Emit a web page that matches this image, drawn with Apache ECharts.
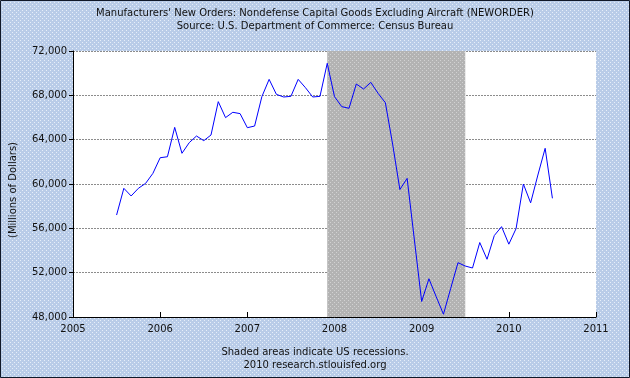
<!DOCTYPE html>
<html>
<head>
<meta charset="utf-8">
<script src="https://cdn.jsdelivr.net/npm/echarts@6/dist/echarts.min.js"></script>
<style>html,body{margin:0;padding:0;background:#fff}#c{width:630px;height:378px}</style>
</head>
<body>
<div id="c"></div>
<script>
// ---- data (monthly, millions of dollars) ----
var months = [
 '2005-07','2005-08','2005-09','2005-10','2005-11','2005-12',
 '2006-01','2006-02','2006-03','2006-04','2006-05','2006-06','2006-07','2006-08','2006-09','2006-10','2006-11','2006-12',
 '2007-01','2007-02','2007-03','2007-04','2007-05','2007-06','2007-07','2007-08','2007-09','2007-10','2007-11','2007-12',
 '2008-01','2008-02','2008-03','2008-04','2008-05','2008-06','2008-07','2008-08','2008-09','2008-10','2008-11','2008-12',
 '2009-01','2009-02','2009-03','2009-04','2009-05','2009-06','2009-07','2009-08','2009-09','2009-10','2009-11','2009-12',
 '2010-01','2010-02','2010-03','2010-04','2010-05','2010-06','2010-07'
];
var newOrders = [
 57200,59610,58920,59610,60060,60960,
 62370,62460,65110,62770,63730,64330,63910,64420,67430,65990,66470,66350,
 65080,65230,67880,69440,68090,67850,67910,69440,68690,67850,67910,70890,
 67880,66980,66830,69020,68570,69170,68180,67340,63600,59500,60510,54950,
 49400,51450,49830,48250,50590,52900,52600,52420,54720,53210,55350,56150,
 54570,55980,60000,58300,60810,63220,58710
];
var recession = ['2007-12','2009-07'];
var yearTicks = [2005,2006,2007,2008,2009,2010,2011];
var titleLines = ["Manufacturers' New Orders: Nondefense Capital Goods Excluding Aircraft (NEWORDER)",
                  "Source: U.S. Department of Commerce: Census Bureau"];
var footLines = ["Shaded areas indicate US recessions.", "2010 research.stlouisfed.org"];
var yName = "(Millions of Dollars)";

function toYear(s){ var p = s.split('-'); return (+p[0]) + (+p[1]-1)/12; }

function makeTile(base, dot, size){
  var c = document.createElement('canvas'); c.width = size; c.height = size;
  var g = c.getContext('2d'); g.fillStyle = base; g.fillRect(0,0,size,size);
  g.fillStyle = dot; g.fillRect(0,0,1,1); g.fillRect(size/2,size/2,1,1);
  return c;
}
var bgTile = makeTile('#b9cce8','#e6eef9',4);
var grayTile = makeTile('#b3b3b3','#d2d2d2',4);

var FONT = 'DejaVu Sans';
var chart = echarts.init(document.getElementById('c'), null, {renderer:'canvas'});
chart.setOption({
  animation: false,
  backgroundColor: {image: bgTile, repeat: 'repeat'},
  textStyle: {fontFamily: FONT},
  grid: {left: 73, right: 34, top: 51, bottom: 61, show: true, backgroundColor: '#ffffff', borderWidth: 0},
  xAxis: {
    type: 'value', min: yearTicks[0], max: yearTicks[yearTicks.length-1], interval: 1,
    axisLine: {show: true, lineStyle: {color: '#000', width: 1}},
    axisTick: {show: true, inside: true, length: 5, lineStyle: {color: '#000'}},
    axisLabel: {color: '#111', fontSize: 10, fontFamily: FONT, margin: 7, formatter: function(v){return String(v);}},
    splitLine: {show: false}
  },
  yAxis: {
    type: 'value', min: 48000, max: 72000, interval: 4000,
    axisLine: {show: true, lineStyle: {color: '#000', width: 1}},
    axisTick: {show: true, length: 4, lineStyle: {color: '#000'}},
    axisLabel: {color: '#111', fontSize: 10, fontFamily: FONT, margin: 6,
      formatter: function(v){ return v.toLocaleString('en-US'); }},
    splitLine: {show: true, lineStyle: {color: '#8c8c8c', type: [2,1], width: 1}}
  },
  graphic: [
    {type:'text', left:'center', top: 8, style:{text: titleLines[0], font: '10px '+FONT, fill:'#111'}},
    {type:'text', left:'center', top: 21, style:{text: titleLines[1], font: '10px '+FONT, fill:'#111'}},
    {type:'text', left:'center', top: 347, style:{text: footLines[0], font: '10px '+FONT, fill:'#111'}},
    {type:'text', left:'center', top: 360, style:{text: footLines[1], font: '10px '+FONT, fill:'#111'}},
    {type:'text', x: 13, y: 190, rotation: Math.PI/2, style:{text: yName, font: '10px '+FONT, fill:'#111', align:'center', verticalAlign:'middle'}},
    {type:'rect', shape:{x:0.5, y:0.5, width:629, height:377}, style:{fill:'none', stroke:'#101828', lineWidth:1}, z: 100}
  ],
  series: [{
    type: 'line', showSymbol: false, symbol: 'none',
    data: months.map(function(m,i){ return [toYear(m), newOrders[i]]; }),
    lineStyle: {color: '#0000ff', width: 1},
    z: 5,
    markArea: {
      silent: true,
      itemStyle: {color: {image: grayTile, repeat: 'repeat'}, opacity: 1},
      data: [[{xAxis: toYear(recession[0])}, {xAxis: toYear(recession[1])}]]
    }
  }]
});
</script>
</body>
</html>
